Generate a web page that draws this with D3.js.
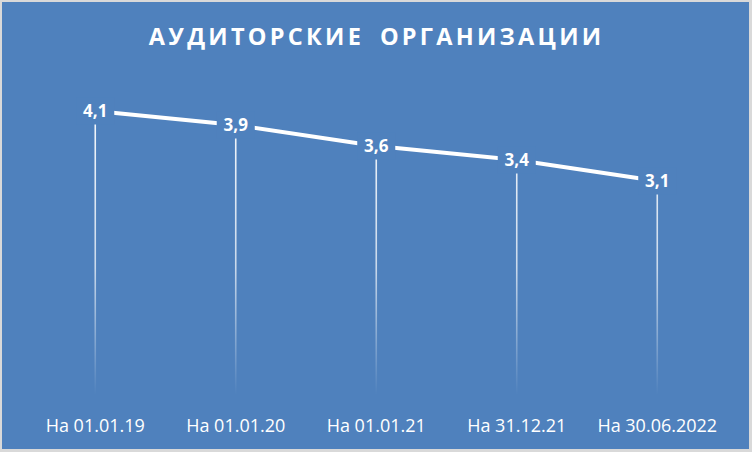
<!DOCTYPE html>
<html><head><meta charset="utf-8">
<script src="https://cdn.jsdelivr.net/npm/d3@7"></script>
<style>
html,body{margin:0;padding:0;background:#d9d9d9;}
svg{display:block;}
text{white-space:pre;}
</style></head>
<body>
<script>
const categories = ["На 01.01.19","На 01.01.20","На 01.01.21","На 31.12.21","На 30.06.2022"];
const values = [4.1, 3.9, 3.6, 3.4, 3.1];
const title = "АУДИТОРСКИЕ ОРГАНИЗАЦИИ";

const W = 752, H = 452;
const bg = "#4f81bd";
const svg = d3.select("body").append("svg").attr("width", W).attr("height", H);
svg.append("rect").attr("x",0).attr("y",0).attr("width",W).attr("height",H).attr("fill","#d9d9d9");
svg.append("rect").attr("x",2).attr("y",2).attr("width",747).attr("height",447).attr("fill",bg);

const x = d3.scaleBand().domain(categories).range([25, 727.5]).padding(0);
const y = d3.scaleLinear().domain([0, 4.5]).range([398, 83]);
const cx = d => x(d) + x.bandwidth()/2;

const defs = svg.append("defs");
const grad = defs.append("linearGradient").attr("id","dropGrad")
  .attr("gradientUnits","userSpaceOnUse").attr("x1",0).attr("x2",0).attr("y1",110).attr("y2",395);
grad.append("stop").attr("offset","0").attr("stop-color","#fff").attr("stop-opacity",0.95);
grad.append("stop").attr("offset","0.55").attr("stop-color","#fff").attr("stop-opacity",0.7);
grad.append("stop").attr("offset","1").attr("stop-color","#fff").attr("stop-opacity",0);

const data = categories.map((c,i)=>({c, v: values[i]}));

svg.append("g").selectAll("line").data(data).join("line")
  .attr("x1", d=>cx(d.c)).attr("x2", d=>cx(d.c))
  .attr("y1", d=>y(d.v)).attr("y2", y(0)-4)
  .attr("stroke","url(#dropGrad)").attr("stroke-width",1.6);

svg.append("path").datum(data)
  .attr("d", d3.line().x(d=>cx(d.c)).y(d=>y(d.v)))
  .attr("fill","none").attr("stroke","#fff").attr("stroke-width",4).attr("stroke-linecap","round");

const fmt = v => d3.format(".1f")(v).replace(".", ",");
const lab = svg.append("g").selectAll("g").data(data).join("g")
  .attr("transform", d=>`translate(${cx(d.c)},${y(d.v)})`);
lab.append("rect").attr("x",-19).attr("y",-13.5).attr("width",38).attr("height",27).attr("fill",bg);
lab.append("text").attr("text-anchor","middle").attr("dy","0.36em")
  .attr("font-family","'Open Sans', sans-serif").attr("font-weight","bold").attr("font-size",17)
  .attr("fill","#fff").text(d=>fmt(d.v));

const xAxis = svg.append("g").attr("transform","translate(0,398)")
  .call(d3.axisBottom(x).tickSize(0).tickPadding(0));
xAxis.select(".domain").remove();
xAxis.selectAll("text").attr("y",34).attr("dy",0)
  .attr("font-family","'Open Sans', sans-serif").attr("font-size",18).attr("fill","#fff");

svg.append("text").attr("x",376.6).attr("y",45).attr("text-anchor","middle")
  .attr("font-family","'Open Sans', sans-serif").attr("font-weight","bold").attr("font-size",23.5)
  .attr("letter-spacing",3.25).attr("word-spacing",6.5).attr("fill","#fff").text(title);
</script>
</body></html>
